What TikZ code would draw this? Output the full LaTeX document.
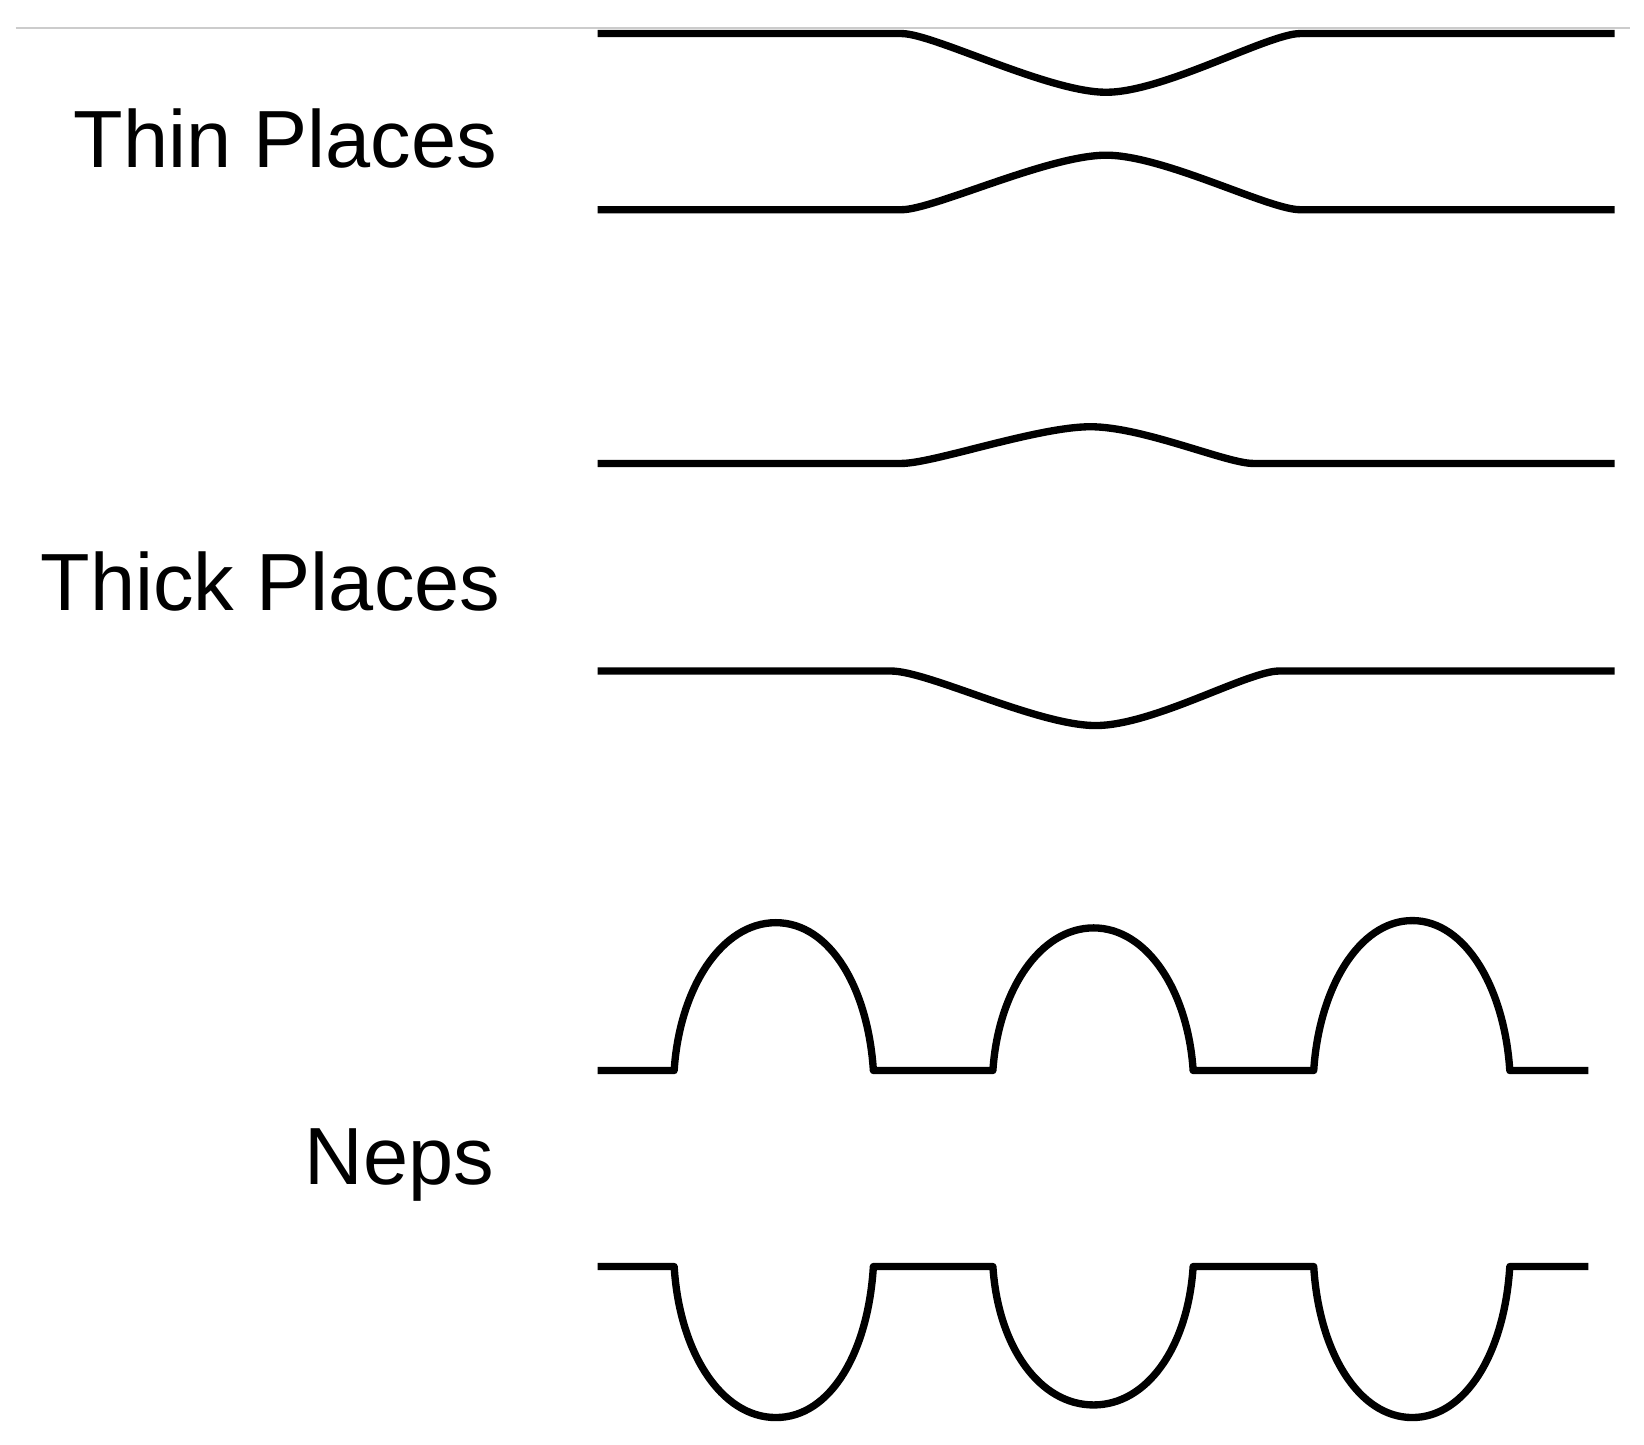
\documentclass[tikz,border=0pt]{standalone}
\usepackage{fontspec}
\setmainfont{Liberation Sans}
\begin{document}
\begin{tikzpicture}[x=0.01cm,y=-0.01cm,
  yarn/.style={line width=0.07cm,line join=round},
  lbl/.style={anchor=base east,inner sep=0pt,font=\fontsize{22}{26}\selectfont}]
\useasboundingbox (0,0) rectangle (1568,1378);
\draw[gray!40,line width=0.02cm] (15,27) -- (1555,27);
\node[lbl] (thin) at (475,160) {Thin Places};
\node[lbl] (thick) at (478,582) {Thick Places};
\node[lbl] (neps) at (472,1130) {Neps};
% thin
\draw[yarn] (570,32) -- (860,32) .. controls (890,32) and (1000,88) .. (1055,88) .. controls (1110,88) and (1210,32) .. (1240,32) -- (1540,32);
\draw[yarn] (570,200) -- (860,200) .. controls (890,200) and (1000,148) .. (1055,148) .. controls (1110,148) and (1210,200) .. (1240,200) -- (1540,200);
% thick
\draw[yarn] (570,442) -- (860,442) .. controls (890,442) and (990,407) .. (1040,407) .. controls (1090,407) and (1170,442) .. (1195,442) -- (1540,442);
\draw[yarn] (570,640) -- (850,640) .. controls (885,640) and (990,692) .. (1045,692) .. controls (1100,692) and (1190,640) .. (1220,640) -- (1540,640);
% neps top
\draw[yarn] (570,1021) -- (643,1021)
  .. controls (648,943) and (688,880) .. (740,880) .. controls (792,880) and (828,943) .. (833,1021)
  -- (947,1021)
  .. controls (952,945) and (992,885) .. (1043,885) .. controls (1094,885) and (1133,945) .. (1138,1021)
  -- (1253,1021)
  .. controls (1258,943) and (1296,878) .. (1347,878) .. controls (1398,878) and (1435,943) .. (1440,1021)
  -- (1515,1021);
% neps bottom
\draw[yarn] (570,1208) -- (643,1208)
  .. controls (648,1290) and (688,1352) .. (740,1352) .. controls (792,1352) and (828,1290) .. (833,1208)
  -- (947,1208)
  .. controls (952,1285) and (992,1340) .. (1043,1340) .. controls (1094,1340) and (1133,1285) .. (1138,1208)
  -- (1253,1208)
  .. controls (1258,1290) and (1296,1352) .. (1347,1352) .. controls (1398,1352) and (1435,1290) .. (1440,1208)
  -- (1515,1208);
\end{tikzpicture}
\end{document}
